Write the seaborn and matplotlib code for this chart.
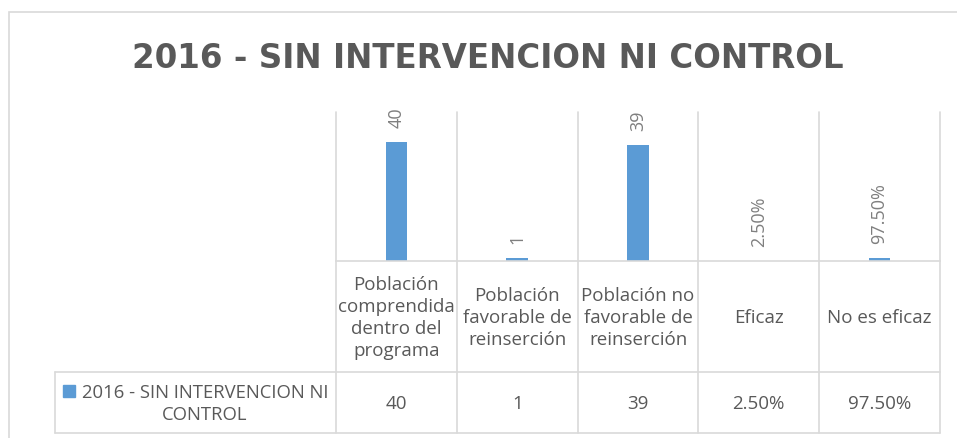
import matplotlib
matplotlib.use("Agg")
import matplotlib.pyplot as plt
import seaborn as sns
import pandas as pd
from matplotlib.patches import Rectangle

# data
categories = ["Población\ncomprendida\ndentro del\nprograma",
              "Población\nfavorable de\nreinserción",
              "Población no\nfavorable de\nreinserción",
              "Eficaz",
              "No es eficaz"]
values = [40, 1, 39, 0.025, 0.975]
value_labels = ["40", "1", "39", "2.50%", "97.50%"]
series_name = "2016 - SIN INTERVENCION NI\nCONTROL"
title = "2016 - SIN INTERVENCION NI CONTROL"

bar_color = "#5B9BD5"
grid_color = "#D9D9D9"
text_color = "#595959"

sns.set_theme(style="white")
plt.rcParams["font.family"] = ["Open Sans", "DejaVu Sans"]

W, H = 957, 439
fig = plt.figure(figsize=(W / 100, H / 100), dpi=100)

# plot area in pixels: x 336..940, y 113..262
px_l, px_r, px_t, px_b = 336, 940, 113, 262
ax = fig.add_axes([px_l / W, 1 - px_b / H, (px_r - px_l) / W, (px_b - px_t) / H])

df = pd.DataFrame({"cat": categories, "val": values})
sns.barplot(data=df, x="cat", y="val", color=bar_color, width=0.18,
            saturation=1, linewidth=0, ax=ax)
ax.set_xlim(-0.5, len(categories) - 0.5)
ax.set_ylim(0, 50)
ax.bar_label(ax.containers[0], labels=value_labels, rotation=90,
             padding=11, fontsize=13, color="#7F7F7F")

ax.set_xlabel("")
ax.set_ylabel("")
ax.set_xticks([])
ax.set_yticks([])
for s in ["left", "right", "top"]:
    ax.spines[s].set_visible(False)
ax.spines["bottom"].set_color(grid_color)
ax.spines["bottom"].set_linewidth(1.2)

# data table below the plot, in axes coordinates
ph = px_b - px_t
pw = px_r - px_l
y_head = (px_b - 373) / ph
y_bot = (px_b - 434) / ph
x_left = (55 - px_l) / pw

trans = ax.get_xaxis_transform()
n = len(categories)
for i in range(n + 1):
    ax.plot([i - 0.5, i - 0.5], [1, y_bot], color=grid_color, lw=1.2,
            transform=trans, clip_on=False, zorder=0)
for yy in [y_head, y_bot]:
    ax.plot([x_left, 1], [yy, yy], color=grid_color, lw=1.2,
            transform=ax.transAxes, clip_on=False)
ax.plot([x_left, x_left], [y_head, y_bot], color=grid_color, lw=1.2,
        transform=ax.transAxes, clip_on=False)

y_head_c = (px_b - 318) / ph
y_row_c = (px_b - 404) / ph
for i, (c, lab) in enumerate(zip(categories, value_labels)):
    ax.text(i, y_head_c, c, transform=trans, ha="center", va="center",
            fontsize=13.5, color=text_color, linespacing=1.3)
    ax.text(i, y_row_c, lab, transform=trans, ha="center", va="center",
            fontsize=13.5, color=text_color)

# row label with legend key
ax.text((205 - px_l) / pw, y_row_c, series_name,
        transform=ax.transAxes, ha="center", va="center", fontsize=13.3,
        color=text_color, linespacing=1.25)
ax.add_patch(Rectangle(((63 - px_l) / pw, (px_b - 398) / ph), 12 / pw, 12 / ph,
                       transform=ax.transAxes, color=bar_color, clip_on=False))

# chart title, sized to the width it takes in the reference (~709 px)
t = fig.text(487.5 / W, 1 - 58 / H, title, ha="center", va="center",
             fontsize=22, fontweight="bold", color=text_color,
             family="DejaVu Sans")
r = fig.canvas.get_renderer()
tw = t.get_window_extent(renderer=r).width
t.set_fontsize(22 * 709 / tw)

# outer chart border (cropped on the right and bottom)
fig.patches.append(Rectangle((9 / W, -0.1), 1.1, 1 - 13 / H + 0.1,
                             transform=fig.transFigure, fill=False,
                             edgecolor=grid_color, lw=1.2))

fig.savefig("out.png", dpi=100)
